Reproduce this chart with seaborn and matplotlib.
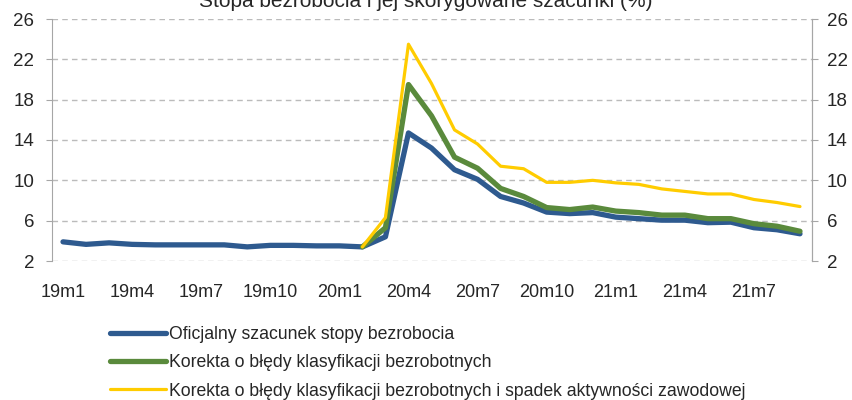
import numpy as np
import pandas as pd
import matplotlib
matplotlib.use("Agg")
import matplotlib.pyplot as plt
import seaborn as sns

# months 19m1 .. 21m9
months = [f"{y}m{m}" for y in (19, 20, 21) for m in range(1, 13)][:33]

official = [3.9, 3.65, 3.8, 3.65, 3.6, 3.6, 3.6, 3.6, 3.4, 3.55, 3.55, 3.5, 3.5,
            3.4, 4.4, 14.7, 13.2, 11.05, 10.1, 8.4, 7.75, 6.85, 6.7, 6.8,
            6.35, 6.2, 6.05, 6.05, 5.8, 5.85, 5.3, 5.1, 4.7]
class_corr = [np.nan] * 13 + [3.4, 5.3, 19.5, 16.4, 12.3, 11.2, 9.2, 8.4, 7.3, 7.1, 7.35,
                               6.95, 6.8, 6.55, 6.55, 6.2, 6.2, 5.7, 5.45, 4.95]
class_act_corr = [np.nan] * 13 + [3.4, 6.3, 23.5, 19.6, 15.0, 13.6, 11.4, 11.15, 9.8, 9.8, 10.0,
                                   9.75, 9.6, 9.15, 8.9, 8.65, 8.65, 8.1, 7.8, 7.4]

labels = ["Oficjalny szacunek stopy bezrobocia",
          "Korekta o błędy klasyfikacji bezrobotnych",
          "Korekta o błędy klasyfikacji bezrobotnych i spadek aktywności zawodowej"]
colors = ["#2E5A8F", "#5A8A3C", "#FFCC00"]
widths = [3.8, 3.8, 2.3]
yticks = [2, 6, 10, 14, 18, 22, 26]

sns.set_style("white")
plt.rcParams['font.family'] = ['Liberation Sans', 'DejaVu Sans']

fig = plt.figure(figsize=(8.52, 4.0), dpi=100)
ax = fig.add_axes([51.5 / 852, 1 - 261 / 400, (811.5 - 51.5) / 852, (261 - 19) / 400])

x = np.arange(len(months))
for series, lab, col, lw in zip([official, class_corr, class_act_corr], labels, colors, widths):
    df = pd.DataFrame({"x": x, "v": series})
    sns.lineplot(data=df, x="x", y="v", ax=ax, color=col, linewidth=lw, label=lab,
                 solid_capstyle="round", solid_joinstyle="round")

ax.set_xlim(-0.5, len(months) - 0.5)
ax.set_ylim(2, 26)
ax.set_yticks(yticks)
ax.set_xticks(x[::3])
ax.set_xticklabels(months[::3])
ax.set_xlabel("")
ax.set_ylabel("")
ax.yaxis.grid(True, color="#BBBBBB", linestyle=(0, (4, 3)), linewidth=1.0)
ax.xaxis.grid(False)
for s in ["top", "bottom"]:
    ax.spines[s].set_visible(False)
for s in ["left", "right"]:
    ax.spines[s].set_color("#A6A6A6")
ax.tick_params(axis="y", left=True, length=4.3, color="#A6A6A6", labelsize=13.5, pad=8)
ax.tick_params(axis="x", bottom=False, labelsize=13, pad=13)

ax2 = ax.twinx()
ax2.set_ylim(2, 26)
ax2.set_yticks(yticks)
for s in ["top", "bottom", "left"]:
    ax2.spines[s].set_visible(False)
ax2.spines["right"].set_color("#A6A6A6")
ax2.tick_params(axis="y", right=True, length=4.3, color="#A6A6A6", labelsize=13.5, pad=6.5)

ax.legend(loc="upper left", bbox_to_anchor=(110 / 852, 1 - 326 / 400), bbox_transform=fig.transFigure,
          frameon=False, fontsize=12.7, handlelength=3.15, handletextpad=0.2, labelspacing=0.64,
          borderaxespad=0, borderpad=0)

fig.text(0.5, 1 - 7 / 400, "Stopa bezrobocia i jej skorygowane szacunki (%)",
         ha="center", va="baseline", fontsize=15)

fig.savefig("out.png", dpi=100)
